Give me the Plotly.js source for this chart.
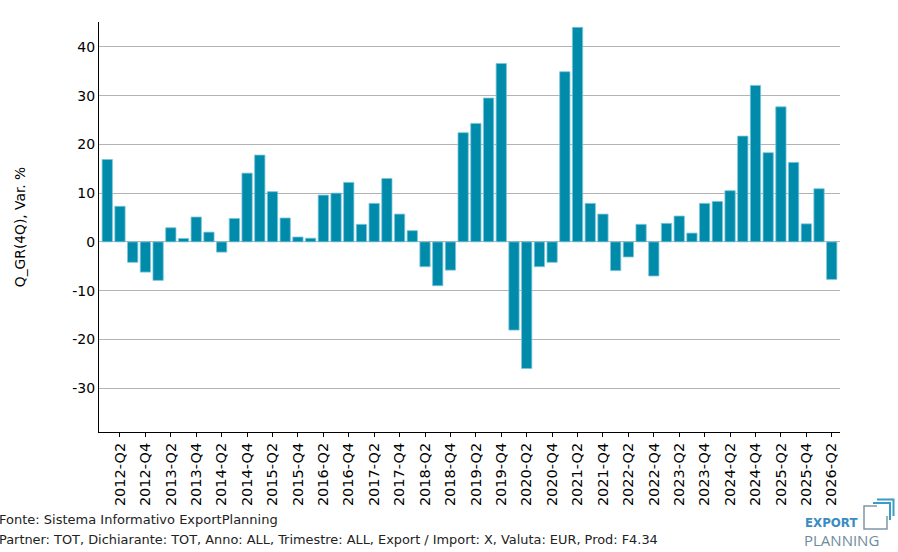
<!DOCTYPE html>
<html>
<head>
<meta charset="utf-8">
<script src="https://cdn.plot.ly/plotly-3.0.1.min.js"></script>
<style>
  html, body { margin: 0; padding: 0; background: #fff; }
  #chart { width: 898px; height: 552px; }
</style>
</head>
<body>
<div id="chart"></div>
<script>
// quarters on the x axis
const quarters = [
  "2012-Q1","2012-Q2","2012-Q3","2012-Q4","2013-Q1","2013-Q2","2013-Q3","2013-Q4",
  "2014-Q1","2014-Q2","2014-Q3","2014-Q4","2015-Q1","2015-Q2","2015-Q3","2015-Q4",
  "2016-Q1","2016-Q2","2016-Q3","2016-Q4","2017-Q1","2017-Q2","2017-Q3","2017-Q4",
  "2018-Q1","2018-Q2","2018-Q3","2018-Q4","2019-Q1","2019-Q2","2019-Q3","2019-Q4",
  "2020-Q1","2020-Q2","2020-Q3","2020-Q4","2021-Q1","2021-Q2","2021-Q3","2021-Q4",
  "2022-Q1","2022-Q2","2022-Q3","2022-Q4","2023-Q1","2023-Q2","2023-Q3","2023-Q4",
  "2024-Q1","2024-Q2","2024-Q3","2024-Q4","2025-Q1","2025-Q2","2025-Q3","2025-Q4",
  "2026-Q1","2026-Q2"
];

// Q_GR(4Q), Var. %
const growth = [
  16.9, 7.3, -4.2, -6.2, -7.9, 2.9, 0.7, 5.1,
  2.0, -2.1, 4.8, 14.1, 17.8, 10.3, 4.9, 1.0,
  0.75, 9.6, 10.0, 12.2, 3.6, 7.9, 13.0, 5.7,
  2.3, -5.1, -9.0, -5.8, 22.4, 24.3, 29.5, 36.6,
  -18.1, -26.0, -5.1, -4.2, 34.9, 44.0, 7.9, 5.7,
  -5.9, -3.1, 3.6, -7.0, 3.8, 5.3, 1.8, 7.9,
  8.3, 10.5, 21.7, 32.1, 18.3, 27.7, 16.3, 3.7,
  10.9, -7.7
];

// only every second quarter gets a label
const tickQuarters = quarters.filter(q => q.endsWith("Q2") || q.endsWith("Q4"));

// y ticks, written with a plain hyphen like the original
const yTicks = [-30, -20, -10, 0, 10, 20, 30, 40];
const yTickText = ["-30", "-20", "-10", "0", "10", "20", "30", "40"];

const footerLines = [
  "Fonte: Sistema Informativo ExportPlanning",
  "Partner: TOT, Dichiarante: TOT, Anno: ALL, Trimestre: ALL, Export / Import: X, Valuta: EUR, Prod: F4.34"
];

const BAR = "#008baa";
const W = 898, H = 552;
const M = { l: 99, r: 58, t: 22, b: 120 };

// pixel -> paper helpers for the footer and logo
const px = x => (x - M.l) / (W - M.l - M.r);
const py = y => (H - M.b - y) / (H - M.t - M.b);

const trace = {
  type: "bar",
  x: quarters,
  y: growth,
  marker: {
    color: BAR,
    line: { color: "#7cc6d8", width: 0.8 }
  },
  hoverinfo: "x+y"
};

const font = { family: "DejaVu Sans, sans-serif", size: 13, color: "#000" };

const layout = {
  width: W,
  height: H,
  margin: M,
  paper_bgcolor: "#fff",
  plot_bgcolor: "#fff",
  font: font,
  showlegend: false,
  bargap: 0.19,
  xaxis: {
    type: "category",
    range: [-0.65, quarters.length - 0.35],
    tickvals: tickQuarters,
    ticktext: tickQuarters,
    tickangle: -90,
    ticks: "outside",
    ticklen: 4,
    tickcolor: "#000",
    showline: true,
    linecolor: "#000",
    linewidth: 1,
    showgrid: false,
    zeroline: false,
    tickfont: { size: 14.5 }
  },
  yaxis: {
    range: [-39, 45.1],
    tickvals: yTicks,
    ticktext: yTickText,
    ticks: "",
    showline: true,
    linecolor: "#000",
    linewidth: 1,
    showgrid: true,
    gridcolor: "#b3b3b3",
    gridwidth: 1,
    zeroline: true,
    zerolinecolor: "#b3b3b3",
    zerolinewidth: 1,
    tickfont: { size: 14 },
    title: { text: "Q_GR(4Q), Var. %", font: { size: 13.8 }, standoff: 43 }
  },
  annotations: [
    {
      xref: "paper", yref: "paper", x: px(-3), y: py(519),
      xanchor: "left", yanchor: "middle", showarrow: false,
      text: footerLines[0], font: { size: 13, color: "#222" }
    },
    {
      xref: "paper", yref: "paper", x: px(-3), y: py(539),
      xanchor: "left", yanchor: "middle", showarrow: false,
      text: footerLines[1], font: { size: 12.9, color: "#222" }
    },
    {
      xref: "paper", yref: "paper", x: px(804), y: py(522.5),
      xanchor: "left", yanchor: "middle", showarrow: false, borderpad: 0,
      text: "<b>EXPORT</b>", font: { size: 11.8, color: "#3a8cc2" }
    },
    {
      xref: "paper", yref: "paper", x: px(803), y: py(539.5),
      xanchor: "left", yanchor: "middle", showarrow: false, borderpad: 0,
      text: "PLANNING", font: { family: "Open Sans, DejaVu Sans, sans-serif", size: 15, color: "#6f8b9b" }
    }
  ],
  shapes: [
    {
      type: "path", xref: "paper", yref: "paper",
      path: `M ${px(877)} ${py(506)} L ${px(864)} ${py(506)} L ${px(864)} ${py(529)} L ${px(887)} ${py(529)} L ${px(887)} ${py(516)}`,
      line: { color: "#7d97a6", width: 1.5 }
    },
    {
      type: "path", xref: "paper", yref: "paper",
      path: `M ${px(873)} ${py(503)} L ${px(890)} ${py(503)} L ${px(890)} ${py(520)}`,
      line: { color: "#3a9cc6", width: 2 }
    },
    {
      type: "path", xref: "paper", yref: "paper",
      path: `M ${px(877)} ${py(499.5)} L ${px(893.5)} ${py(499.5)} L ${px(893.5)} ${py(516)}`,
      line: { color: "#3a9cc6", width: 2 }
    }
  ]
};

Plotly.newPlot("chart", [trace], layout, { displayModeBar: false, staticPlot: true });
</script>
</body>
</html>
